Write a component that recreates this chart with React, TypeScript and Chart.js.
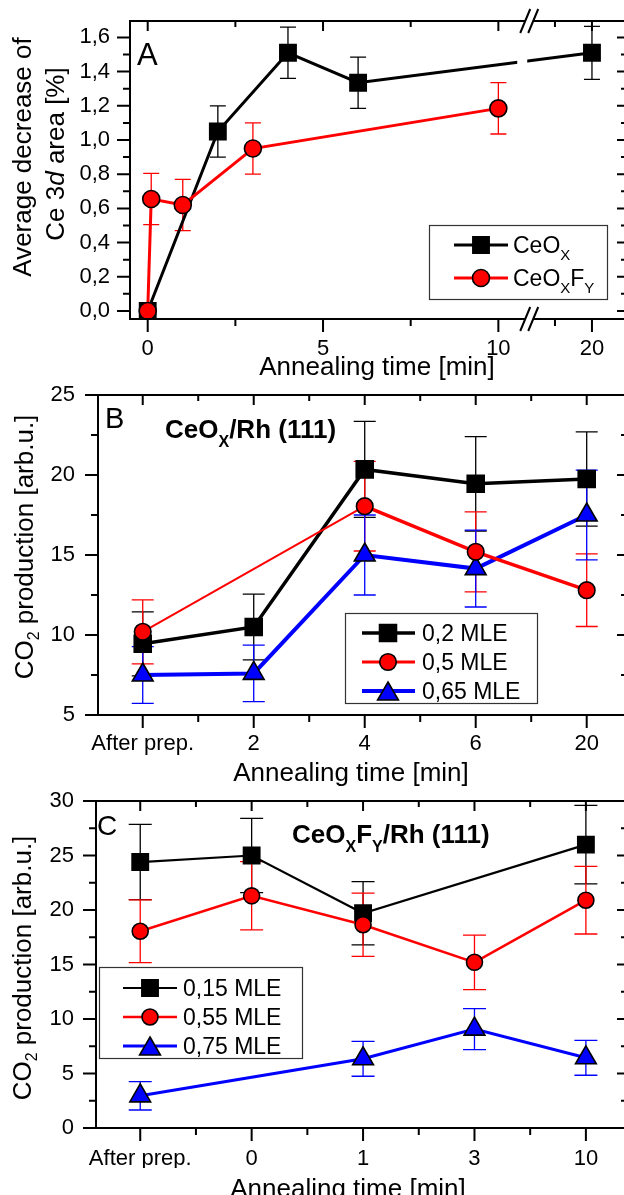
import React, { useEffect, useRef } from 'react';
import { Chart, registerables } from 'chart.js';
Chart.register(...registerables);

const FONT = "'Liberation Sans', Arial, Helvetica, sans-serif";
const BLACK = '#000000';
const RED = '#ff0000';
const BLUE = '#0000ff';
const W = 640;
const H = 1195;

// ---------------- Panel A : Ce 3d area decrease ----------------
const aCeOxTime = [0, 2, 4, 6, 20];
const aCeOxVal = [0, 1.05, 1.51, 1.335, 1.51];
const aCeOxErr = [0, 0.15, 0.15, 0.15, 0.155];
const aCeOxFyTime = [0, 0.1, 1, 3, 10];
const aCeOxFyVal = [0, 0.655, 0.62, 0.95, 1.185];
const aCeOxFyErr = [0, 0.15, 0.15, 0.15, 0.15];
const aXMajor = [0, 5, 10, 20];
const aXMinor = [2.5, 7.5, 17.5];
const aYMajor = [0, 0.2, 0.4, 0.6, 0.8, 1.0, 1.2, 1.4, 1.6];
const aYMinor = [0.1, 0.3, 0.5, 0.7, 0.9, 1.1, 1.3, 1.5];

// broken time axis: linear up to the break, compressed after it
const A_BREAK = 10.88;
const A_SEG2_START = 15.76;
const A_SEG2_SCALE = 0.422;
const aMap = (t: number) => (t <= A_BREAK ? t : A_BREAK + (t - A_SEG2_START) * A_SEG2_SCALE);

// ---------------- Panel B : CeOx/Rh(111) ----------------
const bCategories = ['After prep.', '2', '4', '6', '20'];
const b02Val = [9.45, 10.5, 20.35, 19.45, 19.75];
const b02Err = [2.0, 2.05, 3.0, 2.95, 2.95];
const b05Val = [10.2, null, 18.05, 15.2, 12.8];
const b05Err = [2.0, null, 2.8, 2.5, 2.27];
const b065Val = [7.5, 7.6, 15.0, 14.15, 17.5];
const b065Err = [1.77, 1.77, 2.5, 2.4, 2.8];
const bYMajor = [5, 10, 15, 20, 25];
const bYMinor = [7.5, 12.5, 17.5, 22.5];

// ---------------- Panel C : CeOxFy/Rh(111) ----------------
const cCategories = ['After prep.', '0', '1', '3', '10'];
const c015Val = [24.4, 25.0, 19.7, null, 26.0];
const c015Err = [3.45, 3.4, 2.9, null, 3.6];
const c055Val = [18.05, 21.3, 18.65, 15.2, 20.9];
const c055Err = [2.87, 3.13, 2.9, 2.5, 3.1];
const c075Val = [2.95, null, 6.35, 9.07, 6.44];
const c075Err = [1.3, null, 1.6, 1.88, 1.6];
const cYMajor = [0, 5, 10, 15, 20, 25, 30];
const cYMinor = [2.5, 7.5, 12.5, 17.5, 22.5, 27.5];

const catMajor = [0, 1, 2, 3, 4];
const catMinor = [0.5, 1.5, 2.5, 3.5];

type Seg = { t: string; size: number; bold?: boolean; italic?: boolean; dy?: number };
type Txt = { segs: Seg[]; x: number; y: number; align: 'left' | 'center'; rot?: boolean };
type LegendItem = { ds: number; y: number; segs: Seg[] };
type Legend = { box: [number, number, number, number]; line: [number, number]; mx: number; tx: number; items: LegendItem[] };
type Axis = { min: number; max: number; ticks: number[]; labels: string[]; pad: number; major: number[]; minor: number[] };
type Panel = {
  area: { left: number; top: number; right: number; bottom: number };
  x: Axis;
  y: Axis;
  datasets: any[];
  cap: number;
  errW: number;
  breakX?: number;
  legend: Legend;
  texts: Txt[];
};

function segFont(s: Seg) {
  return `${s.italic ? 'italic ' : ''}${s.bold ? 'bold ' : ''}${s.size}px ${FONT}`;
}

function drawRich(ctx: CanvasRenderingContext2D, segs: Seg[], x: number, y: number, align: 'left' | 'center') {
  let w = 0;
  for (const s of segs) {
    ctx.font = segFont(s);
    w += ctx.measureText(s.t).width;
  }
  let cx = align === 'center' ? x - w / 2 : x;
  ctx.textAlign = 'left';
  ctx.textBaseline = 'alphabetic';
  ctx.fillStyle = '#000';
  for (const s of segs) {
    ctx.font = segFont(s);
    ctx.fillText(s.t, cx, y + (s.dy || 0));
    cx += ctx.measureText(s.t).width;
  }
}

function drawMarker(ctx: CanvasRenderingContext2D, style: string, x: number, y: number, r: number, fill: string, bw: number) {
  ctx.beginPath();
  if (style === 'rect') {
    const s = r * Math.SQRT1_2;
    ctx.rect(x - s, y - s, 2 * s, 2 * s);
  } else if (style === 'triangle') {
    ctx.moveTo(x, y - r);
    ctx.lineTo(x + r * 0.866, y + r * 0.5);
    ctx.lineTo(x - r * 0.866, y + r * 0.5);
    ctx.closePath();
  } else {
    ctx.arc(x, y, r, 0, Math.PI * 2);
  }
  ctx.fillStyle = fill;
  ctx.fill();
  ctx.lineWidth = bw;
  ctx.strokeStyle = '#000';
  ctx.stroke();
}

function series(label: string, xs: number[], ys: (number | null)[], errs: (number | null)[], color: string, style: string, radius: number, lineW: number, order: number, extra: any = {}) {
  const pts: any[] = [];
  ys.forEach((y, i) => {
    if (y == null) return;
    pts.push({ x: xs[i], y, err: errs[i] ?? 0 });
  });
  return {
    label,
    data: pts,
    borderColor: color,
    backgroundColor: color,
    borderWidth: lineW,
    pointStyle: style,
    pointRadius: radius,
    pointHoverRadius: radius,
    pointBorderColor: '#000',
    pointBackgroundColor: color,
    pointBorderWidth: 1.6,
    tension: 0,
    order,
    ...extra,
  };
}

function makeDecor(p: Panel) {
  return {
    id: 'decor',
    beforeDatasetsDraw(chart: any) {
      const ctx = chart.ctx as CanvasRenderingContext2D;
      const ys = chart.scales.y;
      ctx.save();
      chart.data.datasets.forEach((ds: any, i: number) => {
        const meta = chart.getDatasetMeta(i);
        ctx.strokeStyle = ds.borderColor;
        ctx.lineWidth = p.errW;
        meta.data.forEach((el: any, j: number) => {
          const d = ds.data[j];
          if (!d.err) return;
          const t = ys.getPixelForValue(d.y + d.err);
          const b = ys.getPixelForValue(d.y - d.err);
          ctx.beginPath();
          ctx.moveTo(el.x, t);
          ctx.lineTo(el.x, b);
          ctx.moveTo(el.x - p.cap, t);
          ctx.lineTo(el.x + p.cap, t);
          ctx.moveTo(el.x - p.cap, b);
          ctx.lineTo(el.x + p.cap, b);
          ctx.stroke();
        });
      });
      ctx.restore();
    },
    afterDatasetsDraw(chart: any) {
      if (p.breakX == null) return;
      const ctx = chart.ctx as CanvasRenderingContext2D;
      const { top, bottom } = chart.chartArea;
      const px = chart.scales.x.getPixelForValue(p.breakX);
      ctx.save();
      ctx.fillStyle = '#fff';
      ctx.fillRect(px - 12, top + 2, 10, bottom - top - 4);
      ctx.restore();
    },
    afterDraw(chart: any) {
      const ctx = chart.ctx as CanvasRenderingContext2D;
      const { left, right, top, bottom } = chart.chartArea;
      const xs = chart.scales.x;
      const ys = chart.scales.y;
      ctx.save();
      ctx.strokeStyle = '#000';
      ctx.lineWidth = 2;
      ctx.strokeRect(left, top, right - left, bottom - top);
      ctx.beginPath();
      const xTick = (v: number, outLen: number, inLen: number) => {
        const px = xs.getPixelForValue(v);
        ctx.moveTo(px, bottom);
        ctx.lineTo(px, bottom + outLen);
        ctx.moveTo(px, top);
        ctx.lineTo(px, top + inLen);
      };
      const yTick = (v: number, outLen: number, inLen: number) => {
        const py = ys.getPixelForValue(v);
        ctx.moveTo(left, py);
        ctx.lineTo(left - outLen, py);
        ctx.moveTo(right, py);
        ctx.lineTo(right - inLen, py);
      };
      p.x.major.forEach((v) => xTick(v, 13, 10));
      p.x.minor.forEach((v) => xTick(v, 7, 6));
      p.y.major.forEach((v) => yTick(v, 13, 9));
      p.y.minor.forEach((v) => yTick(v, 7, 5));
      ctx.stroke();

      // axis break marks
      if (p.breakX != null) {
        const px = xs.getPixelForValue(p.breakX);
        [top, bottom].forEach((y) => {
          ctx.beginPath();
          ctx.moveTo(px - 9, y + 12);
          ctx.lineTo(px + 1, y - 12);
          ctx.lineTo(px + 9, y - 12);
          ctx.lineTo(px - 1, y + 12);
          ctx.closePath();
          ctx.fillStyle = '#fff';
          ctx.fill();
          ctx.beginPath();
          ctx.moveTo(px - 9, y + 12);
          ctx.lineTo(px + 1, y - 12);
          ctx.moveTo(px - 1, y + 12);
          ctx.lineTo(px + 9, y - 12);
          ctx.lineWidth = 2;
          ctx.strokeStyle = '#000';
          ctx.stroke();
        });
      }

      // legend
      const lg = p.legend;
      ctx.fillStyle = '#fff';
      ctx.fillRect(lg.box[0], lg.box[1], lg.box[2] - lg.box[0], lg.box[3] - lg.box[1]);
      ctx.lineWidth = 1.2;
      ctx.strokeStyle = '#333';
      ctx.strokeRect(lg.box[0] + 0.5, lg.box[1] + 0.5, lg.box[2] - lg.box[0], lg.box[3] - lg.box[1]);
      lg.items.forEach((it) => {
        const ds = chart.data.datasets[it.ds];
        ctx.beginPath();
        ctx.moveTo(lg.line[0], it.y);
        ctx.lineTo(lg.line[1], it.y);
        ctx.strokeStyle = ds.borderColor;
        ctx.lineWidth = ds.legendLineWidth || ds.borderWidth;
        ctx.stroke();
        const dy = ds.pointStyle === 'triangle' ? ds.pointRadius * 0.25 : 0;
        drawMarker(ctx, ds.pointStyle, lg.mx, it.y + dy, ds.pointRadius, ds.pointBackgroundColor, ds.pointBorderWidth);
        drawRich(ctx, it.segs, lg.tx, it.y + 8, 'left');
      });

      // texts
      p.texts.forEach((t) => {
        if (t.rot) {
          ctx.save();
          ctx.translate(t.x, t.y);
          ctx.rotate(-Math.PI / 2);
          drawRich(ctx, t.segs, 0, 0, t.align);
          ctx.restore();
        } else {
          drawRich(ctx, t.segs, t.x, t.y, t.align);
        }
      });
      ctx.restore();
    },
  };
}

function buildChart(canvas: HTMLCanvasElement, p: Panel) {
  const Y_W = 60;
  const X_H = 40;
  const axisCommon = (a: Axis, isX: boolean) => ({
    type: 'linear',
    position: isX ? 'bottom' : 'left',
    min: a.min,
    max: a.max,
    grid: { display: false, drawTicks: false, tickLength: 0 },
    border: { display: false },
    afterFit: (s: any) => {
      if (isX) {
        s.height = X_H;
        s.paddingLeft = 0;
        s.paddingRight = 0;
      } else {
        s.width = Y_W;
        s.paddingTop = 0;
        s.paddingBottom = 0;
      }
    },
    afterBuildTicks: (s: any) => {
      s.ticks = a.ticks.map((v) => ({ value: v }));
    },
    ticks: {
      callback: (_v: any, i: number) => a.labels[i],
      padding: a.pad,
      font: { family: FONT, size: 22 },
      color: '#000',
      maxRotation: 0,
      minRotation: 0,
      autoSkip: false,
    },
  });
  return new Chart(canvas, {
    type: 'line',
    data: { datasets: p.datasets },
    options: {
      responsive: false,
      animation: false,
      devicePixelRatio: 1,
      events: [],
      layout: {
        padding: {
          left: p.area.left - Y_W,
          top: p.area.top,
          right: W - p.area.right,
          bottom: H - p.area.bottom - X_H,
        },
      },
      plugins: { legend: { display: false }, tooltip: { enabled: false } },
      scales: { x: axisCommon(p.x, true) as any, y: axisCommon(p.y, false) as any },
    },
    plugins: [makeDecor(p) as any],
  });
}

const T = 26; // title font size
const L = 23; // legend font size

const catIdx = bCategories.map((_, i) => i);

const panelA: Panel = {
  area: { left: 130, top: 21, right: 626, bottom: 319 },
  x: {
    min: -0.505,
    max: 13.64,
    ticks: aXMajor.map(aMap),
    labels: aXMajor.map(String),
    pad: 17,
    major: aXMajor.map(aMap),
    minor: aXMinor.map(aMap),
  },
  y: {
    min: -0.047,
    max: 1.696,
    ticks: aYMajor,
    labels: aYMajor.map((v) => v.toFixed(1).replace('.', ',')),
    pad: 20,
    major: aYMajor,
    minor: aYMinor,
  },
  datasets: [
    series('CeOx', aCeOxTime.map(aMap), aCeOxVal, aCeOxErr, BLACK, 'rect', 11.5, 3, 1),
    series('CeOxFy', aCeOxFyTime.map(aMap), aCeOxFyVal, aCeOxFyErr, RED, 'circle', 8.5, 3, 0),
  ],
  cap: 8,
  errW: 1.3,
  breakX: A_BREAK,
  legend: {
    box: [429, 225, 607, 299],
    line: [454, 508],
    mx: 481,
    tx: 513,
    items: [
      { ds: 0, y: 245, segs: [{ t: 'CeO', size: L }, { t: 'X', size: 15, dy: 7 }] },
      { ds: 1, y: 278, segs: [{ t: 'CeO', size: L }, { t: 'X', size: 15, dy: 7 }, { t: 'F', size: L }, { t: 'Y', size: 15, dy: 7 }] },
    ],
  },
  texts: [
    { segs: [{ t: 'A', size: 31 }], x: 137, y: 65, align: 'left' },
    { segs: [{ t: 'Annealing time [min]', size: T }], x: 377, y: 375, align: 'center' },
    { segs: [{ t: 'Average decrease of', size: T }], x: 31, y: 157, align: 'center', rot: true },
    {
      segs: [{ t: 'Ce 3', size: T }, { t: 'd', size: T, italic: true }, { t: ' area [%]', size: T }],
      x: 64,
      y: 154,
      align: 'center',
      rot: true,
    },
  ],
};

const panelB: Panel = {
  area: { left: 98, top: 395, right: 626, bottom: 715 },
  x: { min: -0.403, max: 4.354, ticks: catMajor, labels: bCategories, pad: 16, major: catMajor, minor: catMinor },
  y: { min: 5, max: 25, ticks: bYMajor, labels: bYMajor.map(String), pad: 23, major: bYMajor, minor: bYMinor },
  datasets: [
    series('0,2 MLE', catIdx, b02Val, b02Err, BLACK, 'rect', 12, 3.5, 1),
    series('0,5 MLE', catIdx, b05Val, b05Err, RED, 'circle', 8.3, 3.5, 0, {
      legendLineWidth: 3,
      segment: { borderWidth: (c: any) => (c.p0DataIndex === 0 ? 2 : 3.5) },
    }),
    series('0,65 MLE', catIdx, b065Val, b065Err, BLUE, 'triangle', 12, 4, 2),
  ],
  cap: 11,
  errW: 1.3,
  legend: {
    box: [345, 613, 537, 703],
    line: [362, 415],
    mx: 388,
    tx: 422,
    items: [
      { ds: 0, y: 633, segs: [{ t: '0,2 MLE', size: L }] },
      { ds: 1, y: 662, segs: [{ t: '0,5 MLE', size: L }] },
      { ds: 2, y: 691, segs: [{ t: '0,65 MLE', size: L }] },
    ],
  },
  texts: [
    { segs: [{ t: 'B', size: 29 }], x: 105, y: 428, align: 'left' },
    {
      segs: [
        { t: 'CeO', size: 26, bold: true },
        { t: 'X', size: 16, bold: true, dy: 9 },
        { t: '/Rh (111)', size: 26, bold: true },
      ],
      x: 165,
      y: 438,
      align: 'left',
    },
    { segs: [{ t: 'Annealing time [min]', size: T }], x: 351, y: 781, align: 'center' },
    {
      segs: [{ t: 'CO', size: T }, { t: '2', size: 16, dy: 6 }, { t: ' production [arb.u.]', size: T }],
      x: 33,
      y: 547,
      align: 'center',
      rot: true,
    },
  ],
};

const panelC: Panel = {
  area: { left: 96, top: 801, right: 626, bottom: 1128 },
  x: { min: -0.397, max: 4.36, ticks: catMajor, labels: cCategories, pad: 18, major: catMajor, minor: catMinor },
  y: { min: 0, max: 30, ticks: cYMajor, labels: cYMajor.map(String), pad: 22, major: cYMajor, minor: cYMinor },
  datasets: [
    series('0,15 MLE', catIdx, c015Val, c015Err, BLACK, 'rect', 11.5, 2.2, 1),
    series('0,55 MLE', catIdx, c055Val, c055Err, RED, 'circle', 8, 2.5, 0),
    series('0,75 MLE', catIdx, c075Val, c075Err, BLUE, 'triangle', 12, 3, 2),
  ],
  cap: 11.5,
  errW: 1.3,
  legend: {
    box: [99, 967, 302, 1058],
    line: [123, 177],
    mx: 150,
    tx: 183,
    items: [
      { ds: 0, y: 988, segs: [{ t: '0,15 MLE', size: L }] },
      { ds: 1, y: 1017, segs: [{ t: '0,55 MLE', size: L }] },
      { ds: 2, y: 1046, segs: [{ t: '0,75 MLE', size: L }] },
    ],
  },
  texts: [
    { segs: [{ t: 'C', size: 28 }], x: 97, y: 835, align: 'left' },
    {
      segs: [
        { t: 'CeO', size: 26, bold: true },
        { t: 'X', size: 16, bold: true, dy: 9 },
        { t: 'F', size: 26, bold: true },
        { t: 'Y', size: 16, bold: true, dy: 9 },
        { t: '/Rh (111)', size: 26, bold: true },
      ],
      x: 292,
      y: 843,
      align: 'left',
    },
    { segs: [{ t: 'Annealing time [min]', size: T }], x: 348, y: 1197, align: 'center' },
    {
      segs: [{ t: 'CO', size: T }, { t: '2', size: 16, dy: 6 }, { t: ' production [arb.u.]', size: T }],
      x: 31,
      y: 968,
      align: 'center',
      rot: true,
    },
  ],
};

function PanelCanvas({ panel }: { panel: Panel }) {
  const ref = useRef<HTMLCanvasElement>(null);
  useEffect(() => {
    if (!ref.current) return;
    const ch = buildChart(ref.current, panel);
    return () => ch.destroy();
  }, [panel]);
  return (
    <canvas
      ref={ref}
      width={W}
      height={H}
      style={{ position: 'absolute', left: 0, top: 0, width: W, height: H }}
    />
  );
}

export default function App() {
  return (
    <div
      style={{
        position: 'absolute',
        left: 0,
        top: 0,
        width: 624,
        height: 1195,
        overflow: 'hidden',
        background: '#ffffff',
      }}
    >
      <PanelCanvas panel={panelA} />
      <PanelCanvas panel={panelB} />
      <PanelCanvas panel={panelC} />
    </div>
  );
}
